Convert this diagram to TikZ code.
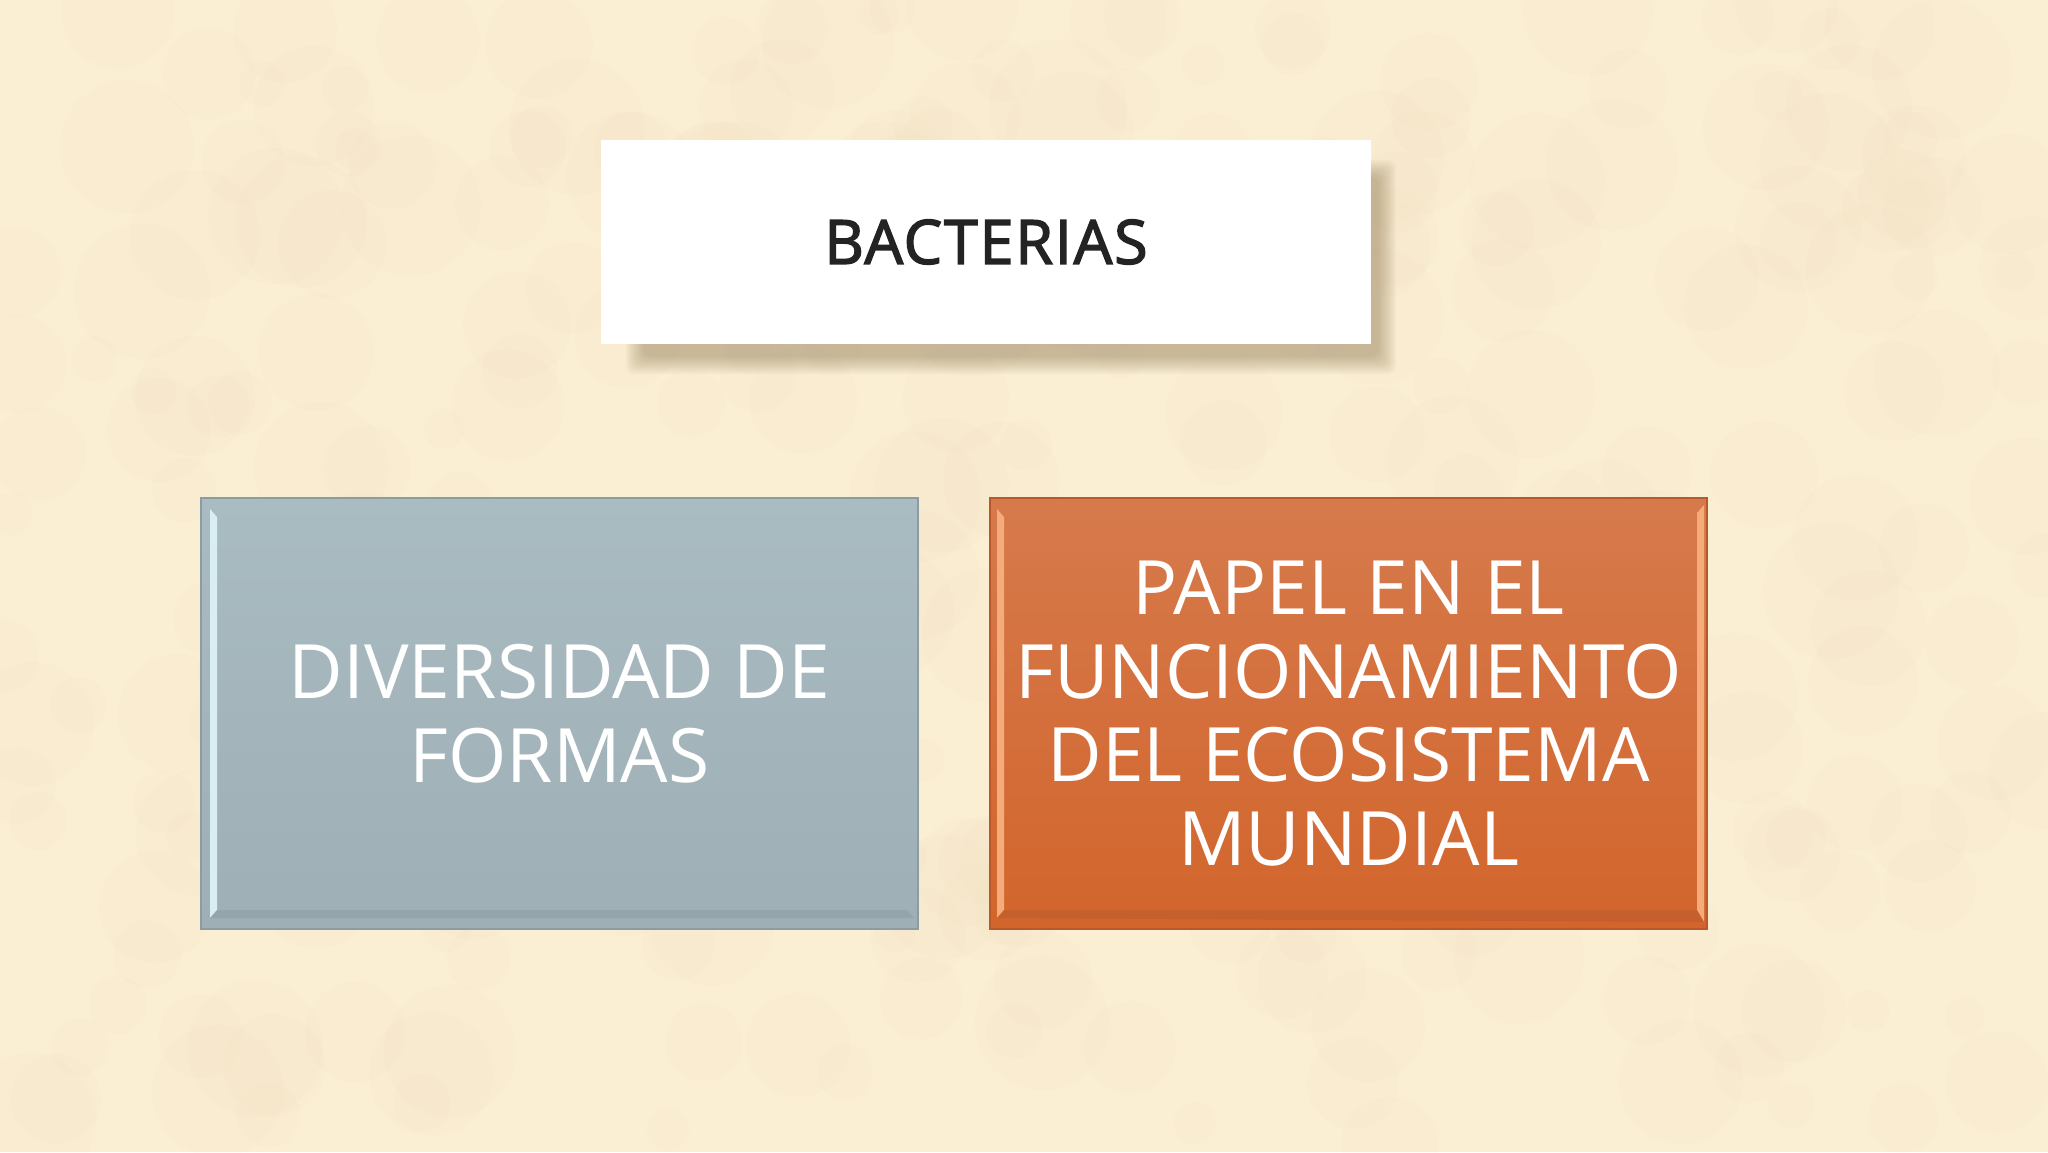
\documentclass[tikz,border=0pt]{standalone}
\usepackage{fontspec}
\setmainfont{Open Sans}
\newfontfamily\headfont{Open Sans}[FakeBold=2.5,LetterSpace=3]
\usetikzlibrary{calc}
\definecolor{paper}{HTML}{FAEED3}
\definecolor{paperdark}{HTML}{E6D2A6}
\definecolor{shadowcol}{HTML}{8A7650}
\definecolor{bluetop}{HTML}{A9BCC2}
\definecolor{bluebot}{HTML}{9EAFB5}
\definecolor{blueedge}{HTML}{8C9CA3}
\definecolor{bluelight}{HTML}{D8EEF2}
\definecolor{orangetop}{HTML}{D67A4C}
\definecolor{orangebot}{HTML}{D2652C}
\definecolor{orangeedge}{HTML}{B9592A}
\definecolor{orangelight}{HTML}{F4AC7A}
\definecolor{headtext}{HTML}{232323}
\tikzset{
  whitebox/.style={fill=white, minimum width=770pt, minimum height=204pt, inner sep=0pt,
    font=\headfont\fontsize{61}{68}\selectfont, text=headtext},
  colbox/.style={minimum width=717pt, minimum height=431pt, inner sep=0pt, align=center,
    text=white, font=\fontsize{75}{83.5}\selectfont},
  bluebox/.style={colbox, top color=bluetop, bottom color=bluebot, draw=blueedge, line width=2pt},
  orangebox/.style={colbox, top color=orangetop, bottom color=orangebot, draw=orangeedge, line width=2pt},
}
\begin{document}
\begin{tikzpicture}[x=1pt,y=-1pt]
\useasboundingbox (0,0) rectangle (2048,1152);
\fill[paper] (0,0) rectangle (2048,1152);
\pgfmathsetseed{7}
\foreach \i in {1,...,320}{
  \pgfmathsetmacro{\xx}{random(0,2048)}
  \pgfmathsetmacro{\yy}{random(0,1152)}
  \pgfmathsetmacro{\rr}{random(20,70)}
  \fill[paperdark, opacity=0.045] (\xx,\yy) circle[radius=\rr];
}
% shadow of the top box
\foreach \k in {0,...,11}{
  \fill[shadowcol, opacity=0.045, rounded corners=8pt] (626+\k*1.6,160+\k*1.6) rectangle (1396-\k*1.6,374-\k*1.6);
}
% top box
\node[whitebox] (head) at (986,242) {BACTERIAS};
% blue box
\node[bluebox] (blue) at (559.5,713.5) {};
\fill[bluelight] ($(blue.north west)+(10,12)$) -- ($(blue.north west)+(17,20)$) -- ($(blue.south west)+(17,-20)$) -- ($(blue.south west)+(10,-12)$) -- cycle;
\fill[blueedge, opacity=0.55] ($(blue.south west)+(10,-12)$) -- ($(blue.south west)+(17,-20)$) -- ($(blue.south east)+(-12,-20)$) -- ($(blue.south east)+(-5,-12)$) -- cycle;
\node[colbox] (bluetext) at (blue.center) {DIVERSIDAD DE\\FORMAS};
% orange box
\node[orangebox] (orange) at (1348.5,713.5) {};
\fill[orangelight] ($(orange.north west)+(8,12)$) -- ($(orange.north west)+(15,20)$) -- ($(orange.south west)+(15,-20)$) -- ($(orange.south west)+(8,-12)$) -- cycle;
\fill[orangelight] ($(orange.north east)+(-4,8)$) -- ($(orange.north east)+(-11,16)$) -- ($(orange.south east)+(-11,-20)$) -- ($(orange.south east)+(-4,-8)$) -- cycle;
\fill[orangeedge, opacity=0.5] ($(orange.south west)+(8,-12)$) -- ($(orange.south west)+(15,-20)$) -- ($(orange.south east)+(-11,-20)$) -- ($(orange.south east)+(-4,-8)$) -- cycle;
\node[colbox] (orangetext) at (orange.center) {PAPEL EN EL\\FUNCIONAMIENTO\\DEL ECOSISTEMA\\MUNDIAL};
\end{tikzpicture}
\end{document}
